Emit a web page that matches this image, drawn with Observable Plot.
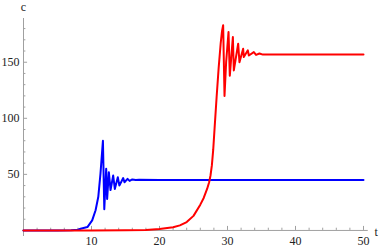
<!DOCTYPE html>
<html>
<head>
<meta charset="utf-8">
<script src="https://cdn.jsdelivr.net/npm/d3@7"></script>
<script src="https://cdn.jsdelivr.net/npm/@observablehq/plot@0.6"></script>
<style>
  html, body { margin: 0; padding: 0; background: #fff; }
  #chart svg { display: block; }
</style>
</head>
<body>
<div id="chart"></div>
<script>
// Blue series (t, c)
const tBlue = [0, 5, 7, 8, 8.4, 9.4, 10.1, 10.6, 11.0, 11.32, 11.57, 11.68, 11.88, 12.16, 12.3, 12.55, 12.8, 13.19, 13.43, 13.87, 14.1, 14.66, 14.85, 15.3, 15.6, 16.0, 16.5, 17, 20, 30, 40, 50];
const cBlue = [0, 0, 0.1, 0.6, 1.5, 3, 9, 18, 30, 50.6, 71, 80, 19, 55, 28, 52, 36, 49, 37, 47.5, 40, 46.7, 43, 46, 44.2, 45.5, 44.9, 45.1, 45, 45, 45, 45];

// Red series (t, c)
const tRed = [0, 10, 15, 18, 20, 22, 23, 24, 25, 26, 26.5, 27, 27.3, 27.5, 27.7, 27.9, 28.1, 28.4, 28.7, 29.0, 29.2, 29.36, 29.56, 29.8, 30.15, 30.34, 30.79, 30.93, 31.57, 31.76, 32.3, 32.4, 32.99, 33.14, 33.87, 34.2, 34.7, 35.2, 36, 40, 45, 50];
const cRed = [0, 0, 0.1, 0.5, 1.2, 2.8, 4.5, 7.5, 13, 23, 29, 37, 43, 49, 58, 72, 91, 119, 145, 167, 178, 183, 120, 150, 177, 138, 172.5, 142.7, 166.5, 150, 162, 154.6, 160.6, 156, 159, 156.5, 157.8, 156.8, 157, 157, 157, 157];

// Ticks
const xMajor = [10, 20, 30, 40, 50];
const xMinor = [2, 4, 6, 8, 12, 14, 16, 18, 22, 24, 26, 28, 32, 34, 36, 38, 42, 44, 46, 48];
const yMajor = [50, 100, 150];
const yMinor = [10, 20, 30, 40, 60, 70, 80, 90, 110, 120, 130, 140, 160, 170, 180];

const blue = tBlue.map((t, i) => ({t, c: cBlue[i]}));
const red = tRed.map((t, i) => ({t, c: cRed[i]}));

const axisColor = "#a0a0a0";
const font = "'Liberation Serif', 'DejaVu Serif', serif";

const chart = Plot.plot({
  width: 382,
  height: 247,
  marginLeft: 23,
  marginRight: 19,
  marginTop: 18,
  marginBottom: 11,
  style: {fontSize: "12px", background: "#fff", overflow: "visible"},
  x: {domain: [0, 50], axis: null},
  y: {domain: [-5.4, 189], axis: null},
  marks: [
    Plot.ruleY([0], {x1: -0.1, x2: 50.7, stroke: axisColor, strokeWidth: 1}),
    Plot.ruleX([0], {y1: -5.4, y2: 189, stroke: axisColor, strokeWidth: 1}),
    Plot.ruleX(xMajor, {x: d => d, y1: 0, y2: 3.6, stroke: axisColor}),
    Plot.ruleX(xMinor, {x: d => d, y1: 0, y2: 2.0, stroke: axisColor}),
    Plot.ruleY(yMajor, {y: d => d, x1: 0, x2: 0.6, stroke: axisColor}),
    Plot.ruleY(yMinor, {y: d => d, x1: 0, x2: 0.35, stroke: axisColor}),
    Plot.text(xMajor, {x: d => d, y: 0, text: d => String(d), dy: 11, fill: "#222", fontSize: 12}),
    Plot.text(yMajor, {x: 0, y: d => d, text: d => String(d), dx: -4, textAnchor: "end", fill: "#222", fontSize: 12}),
    Plot.text(["c"], {x: 0, y: 189, text: d => d, dy: -11, fill: "#222", fontSize: 12}),
    Plot.text(["t"], {x: 50.7, y: 0, text: d => d, dx: 8, dy: 2, fill: "#222", fontSize: 12}),
    Plot.line(blue, {x: "t", y: "c", stroke: "#0000ff", strokeWidth: 2, curve: "linear"}),
    Plot.line(red, {x: "t", y: "c", stroke: "#ff0000", strokeWidth: 2, curve: "linear"})
  ]
});

chart.setAttribute("font-family", font);
chart.style.fontFamily = font;
chart.querySelectorAll("g, text").forEach(el => {
  el.setAttribute("font-family", font);
  el.style.setProperty("font-family", font, "important");
});

document.getElementById("chart").appendChild(chart);
</script>
</body>
</html>
